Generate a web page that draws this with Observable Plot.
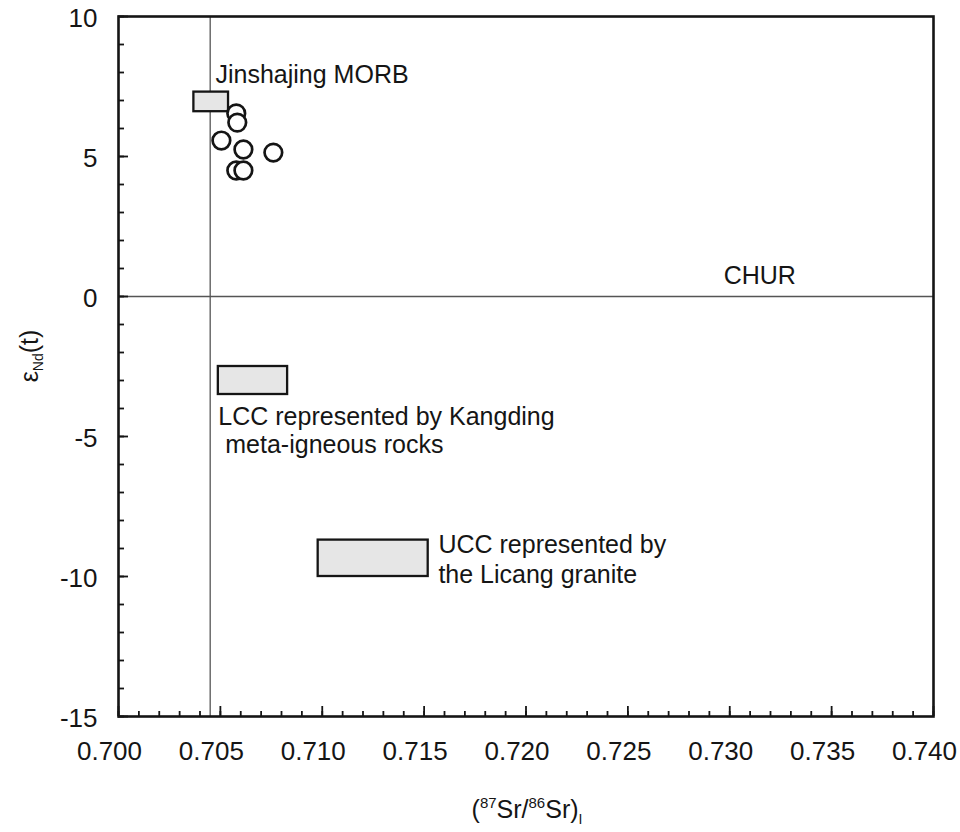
<!DOCTYPE html>
<html><head><meta charset="utf-8">
<script src="https://cdn.jsdelivr.net/npm/d3@7"></script>
<script src="https://cdn.jsdelivr.net/npm/@observablehq/plot@0.6"></script>
<style>body{margin:0;background:#fff}</style>
</head><body><div id="chart"></div>
<script>
// Samples (circles)
const sampleSr = [0.70578, 0.70583, 0.70505, 0.70613, 0.70760, 0.70578, 0.70613];
const sampleNd = [6.54, 6.21, 5.57, 5.25, 5.14, 4.50, 4.50];

// Reference fields (boxes)
const fieldNames = ["Jinshajing MORB", "LCC", "UCC"];
const fieldSrMin = [0.7037, 0.7049, 0.7098];
const fieldSrMax = [0.7054, 0.7083, 0.7152];
const fieldNdMin = [6.6, -3.5, -10.0];
const fieldNdMax = [7.3, -2.5, -8.7];

// Reference lines
const refSr = [0.7045];
const churNd = [0];

// Annotation labels
const labelText = ["Jinshajing MORB", "CHUR", "LCC represented by Kangding", "\u00a0meta-igneous rocks", "UCC represented by", "the Licang granite"];
const labelSr = [0.70476, 0.7297, 0.7049, 0.7049, 0.7157, 0.7157];
const labelNd = [7.9, 0.75, -4.32, -5.29, -8.89, -9.96];

// Axis ticks
const xTicks = [0.700, 0.705, 0.710, 0.715, 0.720, 0.725, 0.730, 0.735, 0.740];
const yTicks = [-15, -10, -5, 0, 5, 10];
const xMinor = d3.range(0, 41).map(i => +(0.700 + i * 0.001).toFixed(3));
const yMinor = d3.range(-15, 11);

const W = 960, H = 832, ML = 118, MR = 27, MT = 16, MB = 116;
const FW = W - ML - MR, FH = H - MT - MB;
const ink = "#151515";

const samples = sampleSr.map((x, i) => ({x, y: sampleNd[i]}));
const fields = fieldNames.map((n, i) => ({n, x1: fieldSrMin[i], x2: fieldSrMax[i], y1: fieldNdMin[i], y2: fieldNdMax[i]}));
const labels = labelText.map((t, i) => ({t, x: labelSr[i], y: labelNd[i]}));

const chart = Plot.plot({
  width: W, height: H,
  marginLeft: ML, marginRight: MR, marginTop: MT, marginBottom: MB,
  x: {domain: [0.700, 0.740]},
  y: {domain: [-15, 10]},
  style: {fontFamily: "'Liberation Sans', Arial, sans-serif", fontSize: "25px", color: ink, background: "#fff"},
  marks: [
    Plot.ruleX(refSr, {x: d => d, stroke: "#555", strokeWidth: 1.3}),
    Plot.ruleY(churNd, {y: d => d, stroke: "#555", strokeWidth: 1.3}),
    Plot.rect(fields, {x1: "x1", x2: "x2", y1: "y1", y2: "y2", fill: "#e6e6e6", stroke: ink, strokeWidth: 2.3}),
    Plot.dot(samples, {x: "x", y: "y", r: 8.8, fill: "#fff", stroke: ink, strokeWidth: 2.7}),
    Plot.text(labels, {x: "x", y: "y", text: "t", textAnchor: "start", lineAnchor: "middle", fill: ink, fontSize: 25}),
    // inward ticks
    Plot.tickX(xMinor, {x: d => d, insetTop: FH - 5, stroke: ink, strokeWidth: 1.8}),
    Plot.tickX(xTicks, {x: d => d, insetTop: FH - 10, stroke: ink, strokeWidth: 1.8}),
    Plot.tickY(yMinor, {y: d => d, insetRight: FW - 6, stroke: ink, strokeWidth: 1.8}),
    Plot.tickY(yTicks, {y: d => d, insetRight: FW - 10, stroke: ink, strokeWidth: 1.8}),
    Plot.axisX(xTicks, {tickSize: 0, tickPadding: 25, dx: -9, tickFormat: d => d.toFixed(3), label: null, fontSize: 26, fill: ink}),
    Plot.axisY(yTicks, {tickSize: 0, tickPadding: 21, dy: 2, tickFormat: d => String(d), label: null, fontSize: 26, fill: ink}),
    Plot.frame({stroke: ink, strokeWidth: 2.6})
  ]
});

const svg = d3.select(chart);
// Y axis label: εNd(t)
const yl = svg.append("text")
  .attr("transform", "translate(38,356) rotate(-90)")
  .attr("text-anchor", "middle")
  .attr("fill", ink)
  .style("font-family", "'Liberation Sans', Arial, sans-serif")
  .style("font-size", "25px");
yl.append("tspan").text("ε");
yl.append("tspan").attr("dy", 5).style("font-size", "14px").text("Nd");
yl.append("tspan").attr("dy", -5).text("(t)");

// X axis label: (87Sr/86Sr)I
const xl = svg.append("text")
  .attr("x", 527).attr("y", 818)
  .attr("text-anchor", "middle")
  .attr("fill", ink)
  .style("font-family", "'Liberation Sans', Arial, sans-serif")
  .style("font-size", "25px");
xl.append("tspan").text("(");
xl.append("tspan").attr("dy", -10).style("font-size", "15px").text("87");
xl.append("tspan").attr("dy", 10).text("Sr/");
xl.append("tspan").attr("dy", -10).style("font-size", "15px").text("86");
xl.append("tspan").attr("dy", 10).text("Sr)");
xl.append("tspan").attr("dy", 6).style("font-size", "14px").text("I");

document.getElementById("chart").appendChild(chart);
</script>
</body></html>
